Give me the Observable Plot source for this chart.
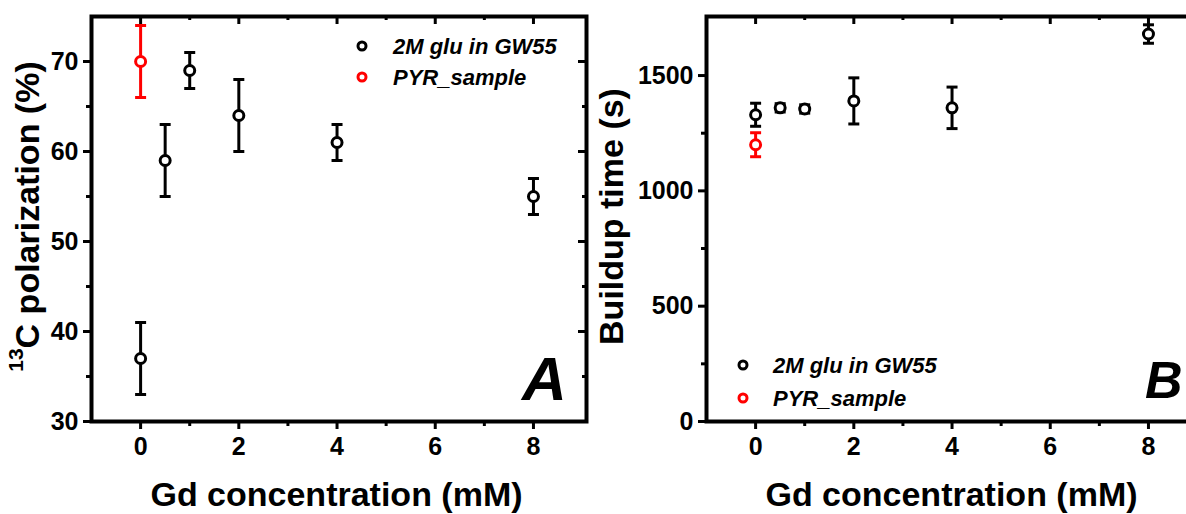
<!DOCTYPE html>
<html><head><meta charset="utf-8">
<script src="https://cdn.jsdelivr.net/npm/d3@7"></script>
<script src="https://cdn.jsdelivr.net/npm/@observablehq/plot@0.6"></script>
<style>
html,body{margin:0;padding:0;background:#fff;overflow:hidden;width:1186px;height:514px}
#wrap{position:relative;width:1186px;height:514px;overflow:hidden}
.panel{position:absolute;top:0}
</style></head><body><div id="wrap"></div>
<script>
// ---- data ----
const gd = [0, 0.5, 1, 2, 4, 8];
const polGlu = [37, 59, 69, 64, 61, 55];
const polGluErr = [4, 4, 2, 4, 2, 2];
const gdPyr = [0];
const polPyr = [70];
const polPyrErr = [4];
const buildGlu = [1330, 1360, 1355, 1390, 1360, 1680];
const buildGluErr = [50, 18, 18, 100, 90, 40];
const buildPyr = [1200];
const buildPyrErr = [52];
const xMajor = [0, 2, 4, 6, 8];
const xMinor = [1, 3, 5, 7];
const polMajor = [30, 40, 50, 60, 70];
const polMinor = [35, 45, 55, 65];
const buildMajor = [0, 500, 1000, 1500];
const buildMinor = [250, 750, 1250];
const seriesNames = ["2M glu in GW55", "PYR_sample"];
const seriesColors = ["#000000", "#ff0000"];
const xTitle = "Gd concentration (mM)";

const FONT = "'Liberation Sans', Arial, Helvetica, sans-serif";
const H = 514, MT = 16, MB = 93, PW = 495;

const cap = {draw(ctx, size) { const w = Math.sqrt(size / Math.PI); ctx.moveTo(-w, 0); ctx.lineTo(w, 0); }};

function rows(xs, ys, es, name) {
  return xs.map((x, i) => ({x, y: ys[i], lo: ys[i] - es[i], hi: ys[i] + es[i], name}));
}

function panel({left, marginLeft, yDomain, yMajor, yMinor, data, yTitle, yTitleX, letter, legend}) {
  const width = marginLeft + PW + 14;
  const PH = H - MT - MB;
  const color = {domain: seriesNames, range: seriesColors};
  const marks = [
    Plot.frame({stroke: "#000", strokeWidth: 4}),
    // bottom axis (outward)
    Plot.axisX(xMajor, {anchor: "bottom", tickSize: 8, strokeWidth: 3, tickPadding: 8, tickFormat: d => String(d), label: null}),
    Plot.tickX(xMinor, {x: d => d, insetTop: PH, insetBottom: -5, strokeWidth: 3}),
    // top (inward)
    Plot.tickX(xMajor, {x: d => d, insetTop: 0, insetBottom: PH - 8, strokeWidth: 3}),
    Plot.tickX(xMinor, {x: d => d, insetTop: 0, insetBottom: PH - 4, strokeWidth: 3}),
    // left axis (outward)
    Plot.axisY(yMajor, {anchor: "left", tickSize: 8, strokeWidth: 3, tickPadding: 5, tickFormat: d => String(d), label: null}),
    Plot.tickY(yMinor, {y: d => d, insetLeft: -5, insetRight: PW, strokeWidth: 3}),
    // right (inward)
    Plot.tickY(yMajor, {y: d => d, insetLeft: PW - 8, insetRight: 0, strokeWidth: 3}),
    Plot.tickY(yMinor, {y: d => d, insetLeft: PW - 4, insetRight: 0, strokeWidth: 3}),
    // error bars
    Plot.ruleX(data, {x: "x", y1: "lo", y2: "hi", stroke: "name", strokeWidth: 3}),
    Plot.dot(data, {x: "x", y: "hi", symbol: cap, r: 5.5, stroke: "name", strokeWidth: 3, fill: "none"}),
    Plot.dot(data, {x: "x", y: "lo", symbol: cap, r: 5.5, stroke: "name", strokeWidth: 3, fill: "none"}),
    // points
    Plot.dot(data, {x: "x", y: "y", r: 5, stroke: "name", strokeWidth: 3, fill: "white"})
  ];
  const svg = Plot.plot({
    width, height: H, marginLeft, marginRight: 14, marginTop: MT, marginBottom: MB,
    x: {domain: [-1, 9.08], axis: null},
    y: {domain: yDomain, axis: null},
    color,
    style: {fontFamily: FONT, background: "white", color: "#000", overflow: "visible"},
    marks
  });
  svg.classList.add("panel");
  svg.style.left = left + "px";
  const s = d3.select(svg);
  s.selectAll('g[aria-label$="tick label"]').attr("font-size", 25).attr("font-weight", "bold").attr("fill", "#000");
  // y title
  const yt = s.append("text")
    .attr("transform", `translate(${yTitleX},${MT + PH / 2 - 2}) rotate(-90)`)
    .attr("text-anchor", "middle").attr("dominant-baseline", "central")
    .attr("font-family", FONT).attr("font-weight", "bold").attr("font-size", 34).attr("fill", "#000");
  yTitle(yt);
  // x title
  s.append("text").attr("x", marginLeft + PW / 2 - 2).attr("y", 506)
    .attr("text-anchor", "middle").attr("font-family", FONT).attr("font-weight", "bold")
    .attr("font-size", 34).attr("fill", "#000").text(xTitle);
  // panel letter
  s.append("text").attr("x", letter.x).attr("y", letter.y).attr("text-anchor", "start")
    .attr("font-family", FONT).attr("font-weight", "bold").attr("font-style", "italic")
    .attr("font-size", letter.size).attr("fill", "#000").text(letter.t);
  // legend
  seriesNames.forEach((n, i) => {
    const cy = legend.y + i * legend.dy;
    s.append("circle").attr("cx", legend.cx).attr("cy", cy).attr("r", 4)
      .attr("fill", "white").attr("stroke", seriesColors[i]).attr("stroke-width", 3);
    s.append("text").attr("x", legend.tx).attr("y", cy).attr("dominant-baseline", "central")
      .attr("text-anchor", "start")
      .attr("font-family", FONT).attr("font-weight", "bold").attr("font-style", "italic")
      .attr("font-size", 22).attr("fill", "#000").text(n);
  });
  document.getElementById("wrap").appendChild(svg);
}

panel({
  left: 0, marginLeft: 91, yDomain: [30, 75], yMajor: polMajor, yMinor: polMinor,
  data: [...rows(gd, polGlu, polGluErr, seriesNames[0]), ...rows(gdPyr, polPyr, polPyrErr, seriesNames[1])],
  yTitleX: 27,
  yTitle: t => { t.append("tspan").attr("font-size", 21).attr("dy", "-0.55em").text("13");
                 t.append("tspan").attr("dy", "0.35em").text("C polarization (%)"); },
  letter: {x: 522, y: 400, size: 62, t: "A"},
  legend: {cx: 362, tx: 393, y: 46, dy: 31}
});
panel({
  left: 600, marginLeft: 106, yDomain: [0, 1756], yMajor: buildMajor, yMinor: buildMinor,
  data: [...rows(gd, buildGlu, buildGluErr, seriesNames[0]), ...rows(gdPyr, buildPyr, buildPyrErr, seriesNames[1])],
  yTitleX: 11,
  yTitle: t => t.text("Buildup time (s)"),
  letter: {x: 545, y: 398, size: 52, t: "B"},
  legend: {cx: 143, tx: 173, y: 365, dy: 33}
});
</script></body></html>
